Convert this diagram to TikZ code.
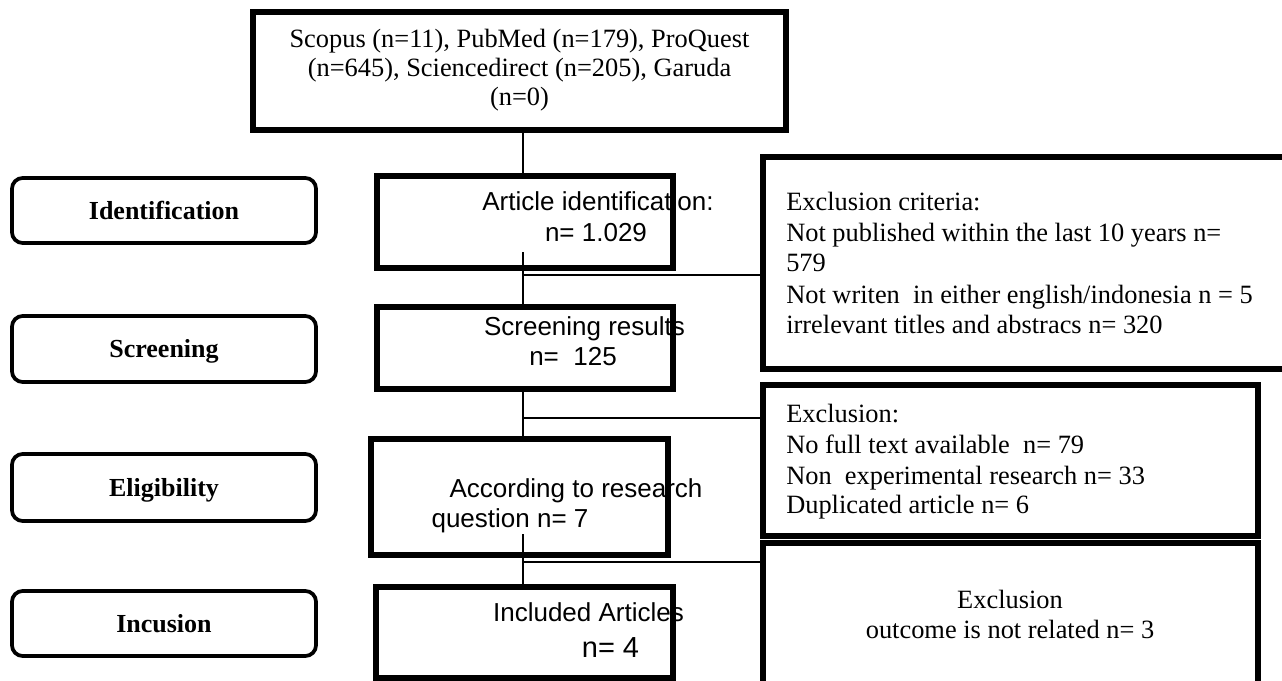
\documentclass[tikz,border=0pt]{standalone}
\usepackage{fontspec}
\setmainfont{Liberation Serif}
\newfontfamily\arialfont{Liberation Sans}
\newlength\px
\setlength\px{0.75pt}
\begin{document}
\begin{tikzpicture}[x=0.75pt,y=-0.75pt,
  cbox/.style={draw, line width=4.1pt, rectangle, inner sep=0pt},
  lbox/.style={draw, line width=2.8pt, rounded corners=8pt, inner sep=0pt,
    minimum width=304\px, text height=12.9pt, text depth=0pt,
    font=\fontsize{19.5}{22}\selectfont\bfseries},
  conn/.style={line width=1.4pt},
  serif/.style={font=\fontsize{19.8}{23}\selectfont, inner sep=0pt, anchor=base},
  serifl/.style={serif, anchor=base west},
  sans/.style={font=\arialfont\fontsize{19.5}{22}\selectfont, inner sep=0pt, anchor=base}]
\path[use as bounding box] (0,0) rectangle (1282,681);
\clip (0,0) rectangle (1282,681);

% label boxes
\node[lbox, minimum height=65\px] (lid) at (164,210.5) {Identification};
\node[lbox, minimum height=66\px] (lscr) at (164,349) {Screening};
\node[lbox, minimum height=67\px] (lelig) at (164,487.5) {Eligibility};
\node[lbox, minimum height=65\px] (linc) at (164,623.5) {Incusion};

% central boxes
\node[cbox, minimum width=533\px, minimum height=118\px] (top) at (519.5,71) {};
\node[cbox, minimum width=296\px, minimum height=92\px] (art) at (525,222) {};
\node[cbox, minimum width=296\px, minimum height=82\px] (scr) at (525,348) {};
\node[cbox, minimum width=297\px, minimum height=116\px] (elig) at (519.5,497) {};
\node[cbox, minimum width=297\px, minimum height=91\px] (incl) at (524.5,632.5) {};

% exclusion boxes
\node[cbox, minimum width=537\px, minimum height=212\px] (ex1) at (1031.5,263) {};
\node[cbox, minimum width=495\px, minimum height=151\px] (ex2) at (1010.5,460.5) {};
\node[cbox, minimum width=495\px, minimum height=157\px] (ex3) at (1010.5,621.5) {};

% connectors
\coordinate (sp) at (523,0);
\coordinate (a1) at (523,252);
\coordinate (a2) at (523,534);
\coordinate (j1) at (523,275);
\coordinate (j2) at (523,418);
\coordinate (j3) at (523,562);
\draw[conn] (top.south -| sp) -- (art.north -| sp);
\draw[conn] (a1) -- (scr.north -| sp);
\draw[conn] (scr.south -| sp) -- ([yshift=-5\px]elig.north -| sp);
\draw[conn] (a2) -- (incl.north -| sp);
\draw[conn] (j1) -- (j1 -| ex1.west);
\draw[conn] (j2) -- (j2 -| ex2.west);
\draw[conn] (j3) -- (j3 -| ex3.west);

% texts of top box
\node[serif] (t1) at (519.5,48) {Scopus (n=11), PubMed (n=179), ProQuest};
\node[serif] (t2) at (519.5,77) {(n=645), Sciencedirect (n=205), Garuda};
\node[serif] (t3) at (519.5,106) {(n=0)};

% central texts
\node[sans] (art1) at (598,211) {Article identification:};
\node[sans] (art2) at (596,242) {n= 1.029};
\node[sans] (scr1) at (584.5,335) {Screening results};
\node[sans] (scr2) at (573,365) {n=\ \ 125};
\node[sans] (el1) at (576,497) {According to research};
\node[sans] (el2) at (510,527) {question n= 7};
\node[sans] (in1) at (588.5,621) {Included Articles};
\node[sans, font=\arialfont\fontsize{21.75}{24}\selectfont] (in2) at (610.5,657) {n= 4};

% exclusion texts
\node[serifl] (e11) at (786,211) {Exclusion criteria:};
\node[serifl] (e12) at (786,242) {Not published within the last 10 years n=};
\node[serifl] (e13) at (786,272) {579};
\node[serifl] (e14) at (786,303) {Not writen \ in either english/indonesia n = 5};
\node[serifl] (e15) at (786,333) {irrelevant titles and abstracs n= 320};
\node[serifl] (e21) at (786,422) {Exclusion:};
\node[serifl] (e22) at (786,453) {No full text available \ n= 79};
\node[serifl] (e23) at (786,484) {Non \ experimental research n= 33};
\node[serifl] (e24) at (786,513) {Duplicated article n= 6};
\node[serif] (e31) at (1010,608) {Exclusion};
\node[serif] (e32) at (1010,638) {outcome is not related n= 3};
\end{tikzpicture}
\end{document}
